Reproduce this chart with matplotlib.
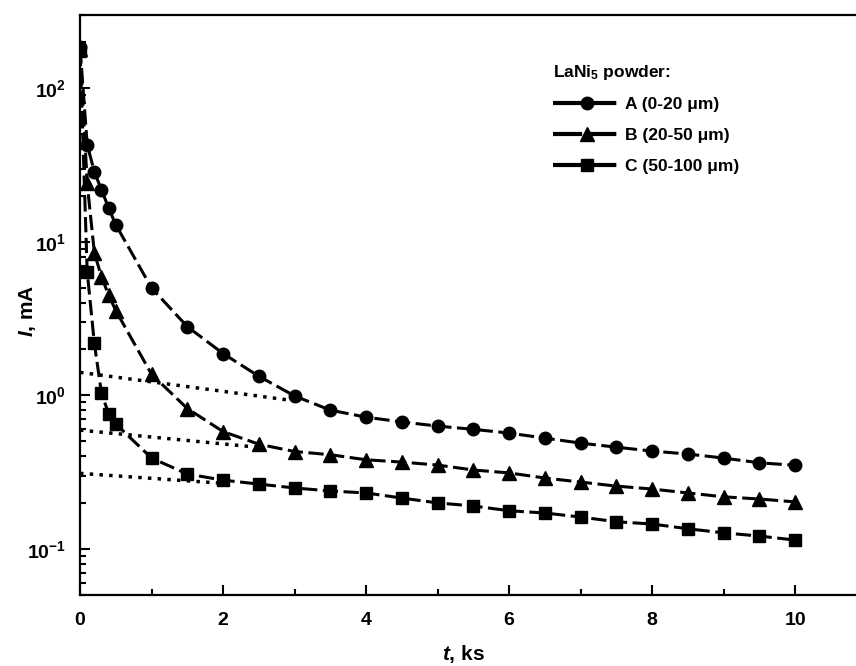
import matplotlib
matplotlib.use('Agg')
import matplotlib.pyplot as plt
from matplotlib.ticker import LogLocator, MultipleLocator, LogFormatterSciNotation

plt.rcParams['font.family'] = ['Liberation Sans', 'DejaVu Sans']
plt.rcParams['font.weight'] = 'bold'
plt.rcParams['mathtext.fontset'] = 'custom'
plt.rcParams['mathtext.rm'] = 'Liberation Sans:bold'
plt.rcParams['mathtext.it'] = 'Liberation Sans:italic:bold'
plt.rcParams['mathtext.bf'] = 'Liberation Sans:bold'
plt.rcParams['axes.unicode_minus'] = False

### Data ###
t = [0, 0.1, 0.2, 0.3, 0.4, 0.5, 1.0, 1.5, 2.0, 2.5, 3.0, 3.5, 4.0, 4.5,
     5.0, 5.5, 6.0, 6.5, 7.0, 7.5, 8.0, 8.5, 9.0, 9.5, 10.0]
I_A = [185, 43, 28.5, 21.8, 16.6, 12.9, 5.0, 2.8, 1.87, 1.33, 0.99, 0.80, 0.72,
       0.67, 0.63, 0.60, 0.567, 0.526, 0.488, 0.459, 0.433, 0.414, 0.39, 0.363, 0.35]
I_B = [180, 24, 8.5, 5.9, 4.5, 3.56, 1.37, 0.82, 0.58, 0.48, 0.43, 0.41, 0.38,
       0.367, 0.351, 0.326, 0.312, 0.289, 0.272, 0.256, 0.245, 0.231, 0.218, 0.211, 0.202]
I_C = [175, 6.4, 2.18, 1.03, 0.76, 0.65, 0.39, 0.307, 0.28, 0.264, 0.249, 0.238, 0.231,
       0.214, 0.199, 0.19, 0.177, 0.171, 0.161, 0.15, 0.145, 0.135, 0.127, 0.121, 0.114]
labels = ['A (0-20 \u03bcm)', 'B (20-50 \u03bcm)', 'C (50-100 \u03bcm)']
markers = ['o', '^', 's']

# dotted extrapolation lines (end points)
fit_t_A = [0, 3.0]
fit_A = [1.41, 0.92]
fit_t_B = [0, 2.45]
fit_B = [0.593, 0.46]
fit_t_C = [0, 1.95]
fit_C = [0.31, 0.268]

### Plot ###
fig = plt.figure(figsize=(8.56, 6.66), dpi=100)
ax = fig.add_axes([0.0935, 0.1066, 0.9065, 0.8709])

for tf, yf in [(fit_t_A, fit_A), (fit_t_B, fit_B), (fit_t_C, fit_C)]:
    ax.plot(tf, yf, color='black', linestyle=(0, (1, 1.8)), linewidth=2.5, zorder=1)

sizes = [9, 10, 8.5]
for y, mk, lab, ms in zip([I_A, I_B, I_C], markers, labels, sizes):
    ax.plot(t, y, color='black', linestyle=(0, (5, 1.8)), linewidth=2.2,
            marker=mk, markersize=ms, label=lab, zorder=3)

ax.set_yscale('log')
ax.set_xlim(0, 10.85)
ax.set_ylim(0.05, 300)

ax.xaxis.set_major_locator(MultipleLocator(2))
ax.xaxis.set_minor_locator(MultipleLocator(1))
ax.yaxis.set_major_locator(LogLocator(base=10))
ax.yaxis.set_minor_locator(LogLocator(base=10, subs=range(2, 10)))
ax.yaxis.set_major_formatter(LogFormatterSciNotation())

ax.tick_params(which='both', direction='in', top=False, right=False, labelsize=14, width=1.5)
ax.tick_params(which='major', length=7)
ax.tick_params(axis='x', which='major', pad=12)
ax.tick_params(axis='y', which='major', pad=10)
ax.tick_params(which='minor', length=4)
for s in ['left', 'bottom', 'top']:
    ax.spines[s].set_linewidth(1.6)
ax.spines['right'].set_visible(False)

ax.set_xlabel(r'$t$, ks', fontsize=15, fontweight='bold')
ax.set_ylabel(r'$I$, mA', fontsize=15, fontweight='bold')
ax.xaxis.set_label_coords(0.494, -0.083)
ax.yaxis.set_label_coords(-0.054, 0.49)

leg = ax.legend(loc='upper left', bbox_to_anchor=(0.59, 0.945), frameon=False,
                title=r'LaNi$_5$ powder:', fontsize=12.5, handlelength=3.9,
                handletextpad=0.2, labelspacing=0.9, alignment='left')
leg.get_title().set_fontsize(12.5)
leg.get_title().set_fontweight('bold')
for h in leg.get_lines():
    h.set_linewidth(3)
    h.set_linestyle((0, (7.0, 1.2)))

fig.savefig('out.png', dpi=100)
